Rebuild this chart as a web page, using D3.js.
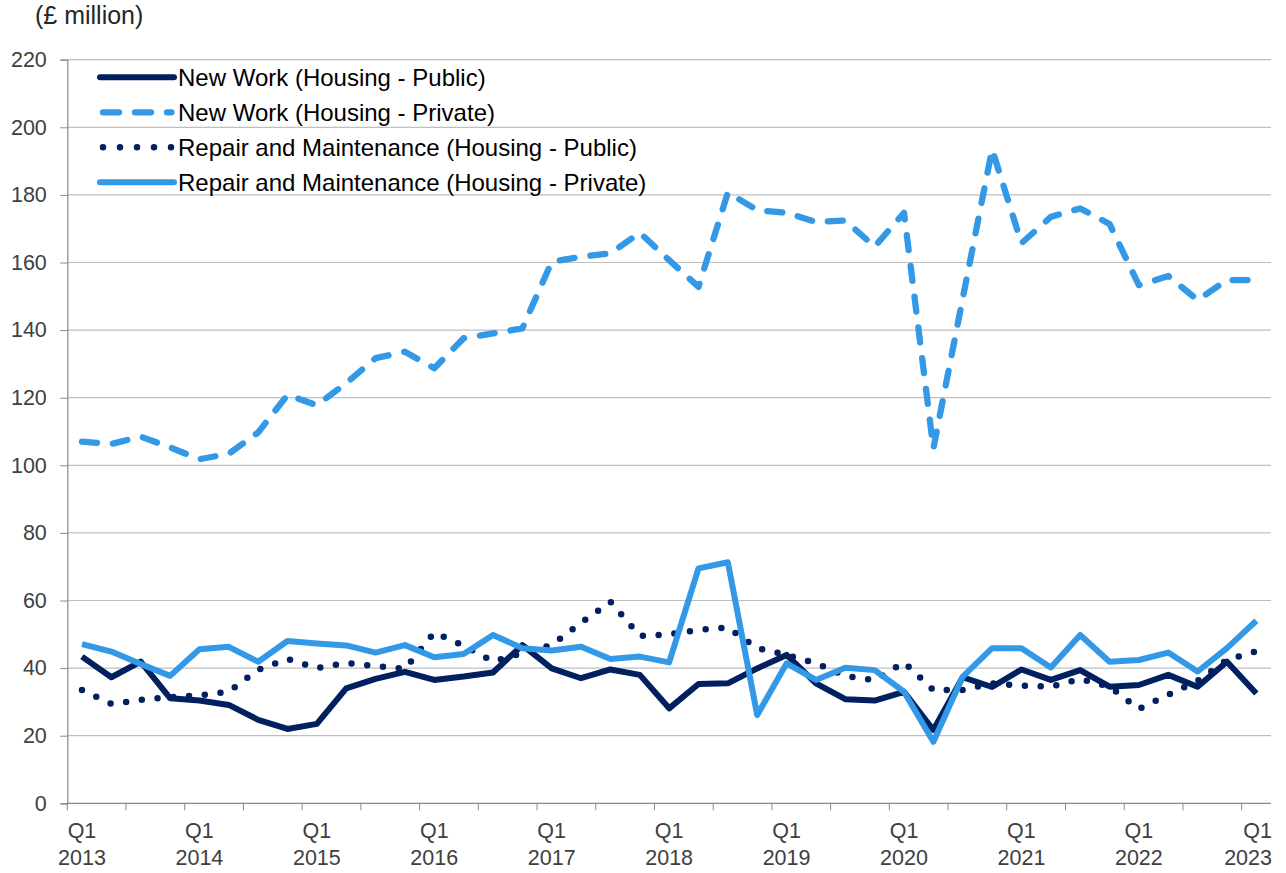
<!DOCTYPE html>
<html lang="en">
<head>
    <meta charset="UTF-8">
    <title>Housing output</title>
    <script src="https://cdn.jsdelivr.net/npm/d3@7"></script>
    <style>
        body { margin: 0; background: #fff; }
        svg text { font-family: "Liberation Sans", Arial, sans-serif; }
    </style>
</head>
<body>
<svg width="1286" height="873"></svg>
<script>
    // quarters Q1 2013 .. Q1 2023
    var years = [2013, 2014, 2015, 2016, 2017, 2018, 2019, 2020, 2021, 2022, 2023];
    var quarters = [];
    years.forEach(function (yr) {
        for (var q = 1; q <= 4; q++) {
            if (yr === 2023 && q > 1) break;
            quarters.push("Q" + q + " " + yr);
        }
    });

    var yTicks = [0, 20, 40, 60, 80, 100, 120, 140, 160, 180, 200, 220];

    // £ million
    var newWorkPublic = [43.4, 37.3, 41.9, 31.1, 30.4, 29.1, 24.7, 22.0, 23.5, 34.0, 36.8, 38.9, 36.5, 37.5, 38.7, 46.8,
        39.9, 37.0, 39.6, 38.0, 28.1, 35.3, 35.5, 39.9, 43.9, 35.5, 30.8, 30.4, 33.0, 21.7, 37.3, 34.4, 39.6, 36.5,
        39.4, 34.5, 35.0, 38.0, 34.5, 41.9, 32.5];
    var newWorkPrivate = [107.0, 106.3, 108.5, 105.3, 101.8, 103.4, 109.7, 120.8, 117.8, 124.3, 131.7, 133.6, 128.7, 137.6,
        139.0, 140.5, 160.2, 161.7, 162.7, 168.8, 160.7, 152.8, 180.7, 175.5, 174.7, 172.0, 172.4, 164.7, 174.7, 105.0,
        149.4, 193.5, 165.7, 173.5, 176.0, 171.4, 153.3, 156.0, 148.9, 154.8, 154.8];
    var repairPublic = [33.5, 29.4, 30.6, 31.4, 31.9, 33.0, 39.5, 42.7, 40.0, 41.5, 40.6, 39.8, 50.5, 46.6, 42.0, 44.4,
        46.8, 53.4, 59.6, 49.5, 50.0, 51.3, 52.0, 45.9, 43.9, 41.4, 37.7, 36.4, 41.7, 33.5, 33.5, 35.5, 34.8, 34.5,
        36.8, 34.5, 27.9, 32.1, 36.2, 42.4, 45.0];
    var repairPrivate = [47.1, 44.9, 41.2, 37.7, 45.6, 46.3, 41.9, 48.0, 47.3, 46.7, 44.6, 46.8, 43.2, 44.2, 49.8, 45.9,
        45.2, 46.3, 42.7, 43.4, 41.7, 69.5, 71.3, 26.1, 41.4, 36.5, 40.1, 39.4, 33.0, 18.2, 37.5, 45.9, 45.9, 40.2,
        49.8, 41.9, 42.4, 44.6, 39.0, 45.9, 54.0];

    var seriesNames = ["New Work (Housing - Public)", "New Work (Housing - Private)",
        "Repair and Maintenance (Housing - Public)", "Repair and Maintenance (Housing - Private)"];

    (function () {
        var navy = "#002060", blue = "#3399e6";
        var series = [
            {name: seriesNames[0], values: newWorkPublic, color: navy, dash: null, width: 6, legendDash: null},
            {name: seriesNames[1], values: newWorkPrivate, color: blue, dash: "15,16", width: 6.3, legendDash: "16,16"},
            {name: seriesNames[2], values: repairPublic, color: navy, dash: "0,15.8", width: 6.5, legendDash: "0,17"},
            {name: seriesNames[3], values: repairPrivate, color: blue, dash: null, width: 6, legendDash: null}
        ];

        var svg = d3.select("svg");
        var plotLeft = 67.3, plotRight = 1271, plotTop = 59.7, plotBottom = 803.3;
        var axisFont = 21.5;

        var x = d3.scaleBand().domain(quarters).range([plotLeft, plotRight]);
        var y = d3.scaleLinear().domain([0, 220]).range([plotBottom, plotTop]);
        var cx = d => x(d) + x.bandwidth() / 2;

        // gridlines
        svg.append("g").selectAll("line")
            .data(yTicks.slice(1))
            .enter().append("line")
            .attr("x1", plotLeft).attr("x2", plotRight)
            .attr("y1", d => y(d)).attr("y2", d => y(d))
            .attr("stroke", "#bfbfbf").attr("stroke-width", 1.2);

        // y axis
        var yAxis = svg.append("g")
            .attr("transform", "translate(" + plotLeft + ",0)")
            .call(d3.axisLeft(y).tickValues(yTicks).tickSize(7).tickPadding(13.5));
        yAxis.select(".domain").attr("stroke", "#888").attr("stroke-width", 1.2);
        yAxis.selectAll(".tick line").attr("stroke", "#888");
        yAxis.selectAll("text").attr("font-size", axisFont).attr("fill", "#404040")
            .attr("font-family", "Liberation Sans, Arial, sans-serif");

        // x axis: ticks every 2 quarters, labels every Q1
        var xg = svg.append("g");
        var tickCats = quarters.filter((d, i) => i % 2 === 0);
        xg.selectAll(".xt")
            .data(tickCats)
            .enter().append("line")
            .attr("x1", d => x(d)).attr("x2", d => x(d))
            .attr("y1", plotBottom).attr("y2", plotBottom + 7)
            .attr("stroke", "#888");

        var labelCats = quarters.filter(d => d.indexOf("Q1") === 0);
        var lbl = xg.selectAll(".xl")
            .data(labelCats)
            .enter().append("text")
            .attr("text-anchor", "middle")
            .attr("font-size", axisFont).attr("fill", "#404040");
        lbl.append("tspan").attr("x", cx).attr("y", 837.5).text(d => d.split(" ")[0]);
        lbl.append("tspan").attr("x", cx).attr("y", 865).text(d => d.split(" ")[1]);
        // last label sits flush with the plot edge
        lbl.filter((d, i) => i === labelCats.length - 1)
            .attr("text-anchor", "end")
            .selectAll("tspan").attr("x", plotRight + 1);

        // unit label
        svg.append("text").attr("x", 35).attr("y", 24).attr("font-size", 25).attr("fill", "#262626")
            .text("(£ million)");

        var line = d3.line()
            .x((d, i) => cx(quarters[i]))
            .y(d => y(d));

        svg.append("g").selectAll("path")
            .data(series)
            .enter().append("path")
            .attr("d", d => line(d.values))
            .attr("fill", "none")
            .attr("stroke", d => d.color)
            .attr("stroke-width", d => d.width)
            .attr("stroke-dasharray", d => d.dash)
            .attr("stroke-linecap", d => d.dash ? "round" : "butt")
            .attr("stroke-linejoin", "round");

        // x axis line drawn over the series
        xg.append("line").attr("x1", plotLeft).attr("x2", plotRight).attr("y1", plotBottom).attr("y2", plotBottom)
            .attr("stroke", "#888").attr("stroke-width", 1.2);

        // legend
        var lg = svg.append("g").selectAll("g")
            .data(series)
            .enter().append("g")
            .attr("transform", (d, i) => "translate(0," + (77.3 + i * 35) + ")");
        lg.append("line")
            .attr("x1", d => d.dash ? 103 : 100).attr("x2", d => d.dash ? 171.5 : 174)
            .attr("y1", 0).attr("y2", 0)
            .attr("stroke", d => d.color)
            .attr("stroke-width", d => d.width)
            .attr("stroke-linecap", "round")
            .attr("stroke-dasharray", d => d.legendDash);
        lg.append("text")
            .attr("x", 178).attr("y", 8.6)
            .attr("font-size", 24).attr("fill", "#000")
            .text(d => d.name);
    })();
</script>
</body>
</html>
